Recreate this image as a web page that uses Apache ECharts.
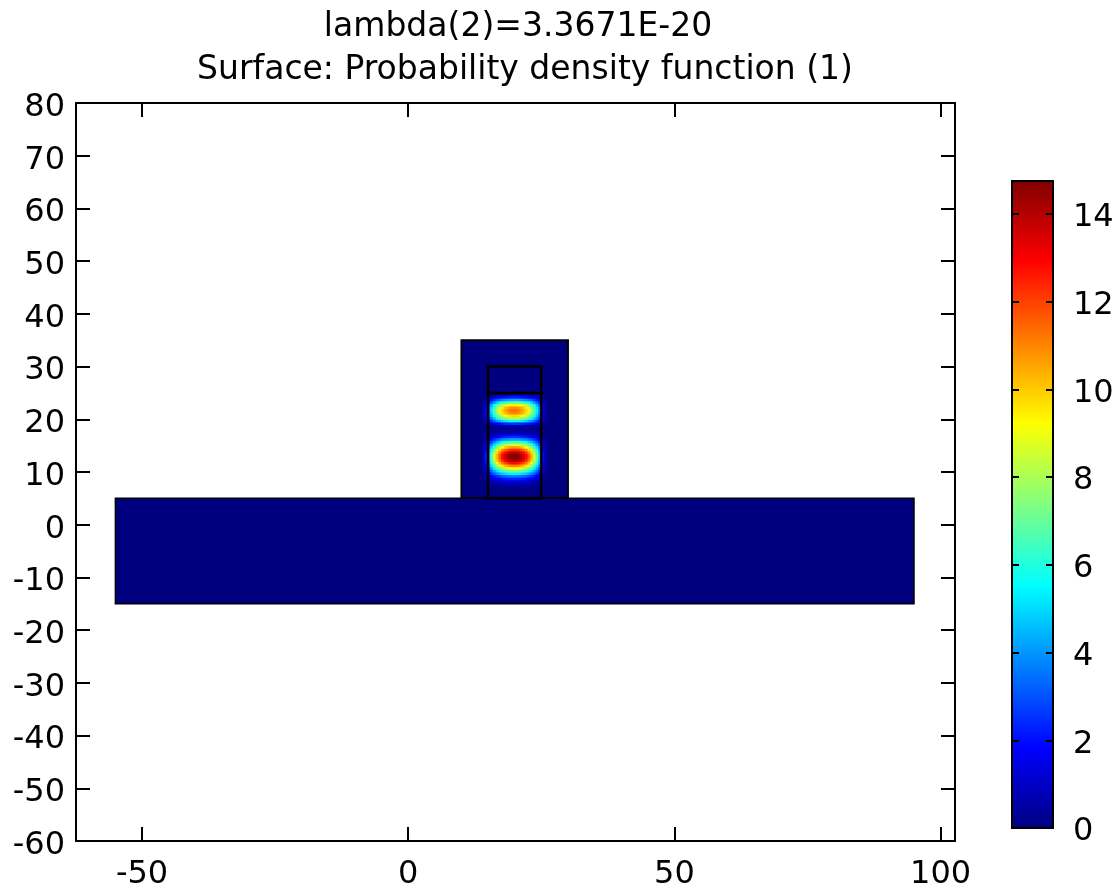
<!DOCTYPE html>
<html>
<head>
<meta charset="utf-8">
<script src="https://cdn.jsdelivr.net/npm/echarts@6/dist/echarts.min.js"></script>
<style>
  html, body { margin: 0; padding: 0; background: #ffffff; }
  #chart { width: 1119px; height: 893px; }
</style>
</head>
<body>
<div id="chart"></div>
<script>
// Axis extents and tick values
const xRange = [-62.4, 102.7];
const yRange = [-60, 80];
const xTicks = [-50, 0, 50, 100];
const yTicks = [-60, -50, -40, -30, -20, -10, 0, 10, 20, 30, 40, 50, 60, 70, 80];
const colorTicks = [0, 2, 4, 6, 8, 10, 12, 14];
const colorMax = 14.75;

// Geometry domains: [xMin, xMax, yMin, yMax]
const substrate = [-55, 95, -15, 5];
const ridge = [10, 30, 5, 35];
const core = [15, 25, 5, 25];
const cap = [15, 25, 25, 30];

// Columns across the ridge (cell centres, 0.5 wide) and relative density across the core
const sampleX = [14.25, 14.75, 15.25, 15.75, 16.25, 16.75, 17.25, 17.75, 18.25, 18.75, 19.25, 19.75,
                 20.25, 20.75, 21.25, 21.75, 22.25, 22.75, 23.25, 23.75, 24.25, 24.75, 25.25, 25.75];
const profileX = [0.06, 0.15, 0.33, 0.47, 0.59, 0.70, 0.79, 0.87, 0.92, 0.96, 0.99, 1.00,
                  1.00, 0.99, 0.96, 0.92, 0.87, 0.79, 0.70, 0.59, 0.47, 0.33, 0.15, 0.06];

// Rows along the core (cell centres, 0.5 tall) and density on the centre line x = 20
const sampleY = [5.25, 5.75, 6.25, 6.75, 7.25, 7.75, 8.25, 8.75, 9.25, 9.75,
                 10.25, 10.75, 11.25, 11.75, 12.25, 12.75, 13.25, 13.75, 14.25, 14.75,
                 15.25, 15.75, 16.25, 16.75, 17.25, 17.75, 18.25, 18.75, 19.25, 19.75,
                 20.25, 20.75, 21.25, 21.75, 22.25, 22.75, 23.25, 23.75, 24.25, 24.75,
                 25.25, 25.75];
const densityY = [0.01, 0.02, 0.05, 0.12, 0.30, 0.65, 1.3, 2.3, 3.6, 5.4,
                  7.2, 9.2, 11.0, 12.8, 14.1, 14.7, 14.65, 13.9, 12.4, 10.6,
                  8.6, 6.4, 4.3, 2.5, 1.2, 0.5, 0.25, 0.6, 2.6, 5.6,
                  8.2, 9.8, 11.0, 11.3, 10.9, 9.4, 7.0, 4.4, 2.1, 0.8,
                  0.25, 0.05];
const cellSize = 0.5;

// Rainbow (jet) colour scale
const jetColors = ['#00007f', '#0000ff', '#0080ff', '#00ffff', '#80ff80',
                   '#ffff00', '#ff8000', '#ff0000', '#7f0000'];

const FONT = 'DejaVu Sans';

// Surface cells: [x, y, density]
const fieldData = [];
sampleY.forEach(function (y, j) {
  sampleX.forEach(function (x, i) {
    fieldData.push([x, y, +(profileX[i] * densityY[j]).toFixed(3)]);
  });
});

const domainData = [substrate, ridge, core, cap];

function rectFromDomain(api) {
  const p0 = api.coord([api.value(0), api.value(3)]);
  const p1 = api.coord([api.value(1), api.value(2)]);
  return { x: p0[0], y: p0[1], width: p1[0] - p0[0], height: p1[1] - p0[1] };
}

const chart = echarts.init(document.getElementById('chart'), null, { renderer: 'canvas' });

const frameLine = { onZero: false, lineStyle: { color: '#000', width: 2 } };
const tickStyle = { color: '#000', width: 2 };
const labelStyle = { fontFamily: FONT, fontSize: 32, color: '#000' };

chart.setOption({
  animation: false,
  backgroundColor: '#ffffff',
  graphic: [
    { type: 'text', x: 518, y: 27,
      style: { text: 'lambda(2)=3.3671E-20', font: '33px "DejaVu Sans"', fill: '#000',
               align: 'center', verticalAlign: 'middle' } },
    { type: 'text', x: 525, y: 70,
      style: { text: 'Surface: Probability density function (1)', font: '33px "DejaVu Sans"', fill: '#000',
               align: 'center', verticalAlign: 'middle' } }
  ],
  grid: [
    { left: 76, top: 103, width: 879, height: 738 },
    { left: 1012, top: 181, width: 41, height: 647 }
  ],
  visualMap: {
    show: false,
    type: 'continuous',
    seriesIndex: 1,
    dimension: 2,
    min: 0,
    max: colorMax,
    inRange: { color: jetColors }
  },
  xAxis: [
    { gridIndex: 0, type: 'value', position: 'bottom', min: xRange[0], max: xRange[1], z: 10,
      axisLine: frameLine, splitLine: { show: false },
      axisTick: { inside: true, length: 14, lineStyle: tickStyle, customValues: xTicks },
      axisLabel: Object.assign({ customValues: xTicks, margin: 18 }, labelStyle) },
    { gridIndex: 0, type: 'value', position: 'top', min: xRange[0], max: xRange[1], z: 10,
      axisLine: frameLine, splitLine: { show: false },
      axisTick: { inside: true, length: 14, lineStyle: tickStyle, customValues: xTicks },
      axisLabel: { show: false } },
    { gridIndex: 1, type: 'value', min: 0, max: 1, show: false }
  ],
  yAxis: [
    { gridIndex: 0, type: 'value', position: 'left', min: yRange[0], max: yRange[1], z: 10,
      axisLine: frameLine, splitLine: { show: false },
      axisTick: { inside: true, length: 14, lineStyle: tickStyle, customValues: yTicks },
      axisLabel: Object.assign({ customValues: yTicks, margin: 11, verticalAlign: 'top', lineHeight: 9 }, labelStyle) },
    { gridIndex: 0, type: 'value', position: 'right', min: yRange[0], max: yRange[1], z: 10,
      axisLine: frameLine, splitLine: { show: false },
      axisTick: { inside: true, length: 14, lineStyle: tickStyle, customValues: yTicks },
      axisLabel: { show: false } },
    { gridIndex: 1, type: 'value', position: 'right', min: 0, max: colorMax, z: 10,
      axisLine: frameLine, splitLine: { show: false },
      axisTick: { inside: true, length: 7, lineStyle: tickStyle, customValues: colorTicks },
      axisLabel: Object.assign({ customValues: colorTicks, margin: 20, verticalAlign: 'top', lineHeight: 8 }, labelStyle) },
    { gridIndex: 1, type: 'value', position: 'left', min: 0, max: colorMax, z: 10,
      axisLine: frameLine, splitLine: { show: false },
      axisTick: { inside: true, length: 7, lineStyle: tickStyle, customValues: colorTicks },
      axisLabel: { show: false } }
  ],
  series: [
    // domain fills (zero density)
    { type: 'custom', xAxisIndex: 0, yAxisIndex: 0, z: 2, silent: true,
      data: domainData,
      renderItem: function (params, api) {
        return { type: 'rect', shape: rectFromDomain(api), style: { fill: jetColors[0] } };
      } },
    // probability density surface
    { type: 'custom', xAxisIndex: 0, yAxisIndex: 0, z: 3, silent: true,
      data: fieldData,
      encode: { x: 0, y: 1 },
      renderItem: function (params, api) {
        const x = api.value(0), y = api.value(1);
        const p0 = api.coord([x - cellSize / 2, y + cellSize / 2]);
        const p1 = api.coord([x + cellSize / 2, y - cellSize / 2]);
        return { type: 'rect',
          shape: { x: p0[0] - 0.4, y: p0[1] - 0.4, width: p1[0] - p0[0] + 0.8, height: p1[1] - p0[1] + 0.8 },
          style: { fill: api.visual('color') } };
      } },
    // domain boundaries
    { type: 'custom', xAxisIndex: 0, yAxisIndex: 0, z: 4, silent: true,
      data: domainData,
      renderItem: function (params, api) {
        return { type: 'rect', shape: rectFromDomain(api),
          style: { fill: 'none', stroke: '#000', lineWidth: params.dataIndex === 0 ? 1.5 : (params.dataIndex === 1 ? 2 : 2.5) } };
      } },
    // colour legend bar
    { type: 'custom', xAxisIndex: 2, yAxisIndex: 2, z: 2, silent: true,
      data: [[0, 1, 0, colorMax]],
      renderItem: function (params, api) {
        const stops = jetColors.map(function (c, i) { return { offset: i / (jetColors.length - 1), color: c }; });
        return { type: 'rect', shape: rectFromDomain(api),
          style: { fill: new echarts.graphic.LinearGradient(0, 1, 0, 0, stops), stroke: '#000', lineWidth: 2 } };
      } }
  ]
});
</script>
</body>
</html>
